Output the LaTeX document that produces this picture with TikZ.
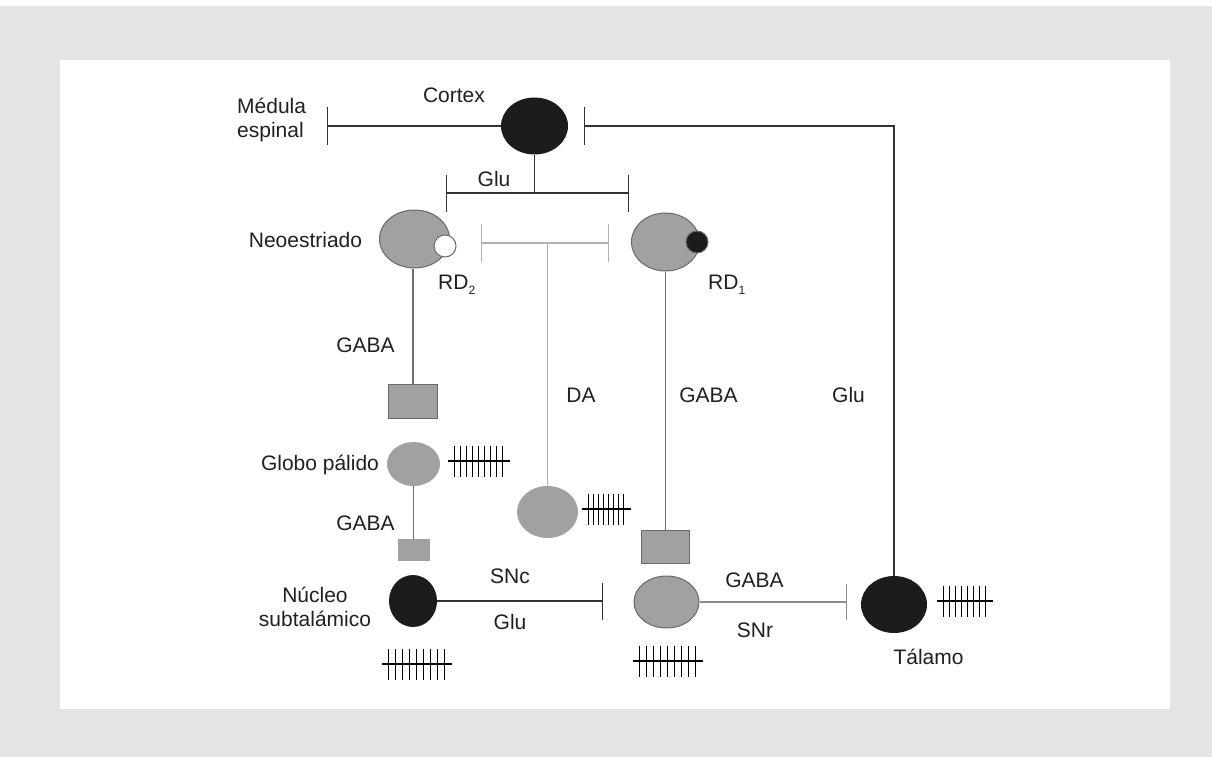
\documentclass[tikz,border=0pt]{standalone}
\usepackage{fontspec}
\setmainfont{Liberation Sans}
\usepackage{tikz}
\usetikzlibrary{arrows.meta}
\usetikzlibrary{shapes.geometric}
\usetikzlibrary{positioning}

\definecolor{bgGray}{RGB}{227,228,230}
\definecolor{cellGray}{RGB}{160,161,163}
\definecolor{cellEdge}{RGB}{105,105,107}
\definecolor{cellBlack}{RGB}{28,27,30}
\definecolor{darkLine}{RGB}{50,50,52}
\definecolor{midLine}{RGB}{110,110,112}
\definecolor{greyLine}{RGB}{140,140,142}
\definecolor{lightLine}{RGB}{178,178,180}
\definecolor{textInk}{RGB}{35,31,32}

\newcommand{\rdsub}[1]{\raisebox{-5pt}{\fontsize{12}{12}\selectfont #1}}

\begin{document}
\begin{tikzpicture}[
  x=1pt, y=-1pt,
  cellGrey/.style={ellipse, draw=cellEdge, fill=cellGray, line width=1pt, inner sep=0pt},
  cellSoft/.style={ellipse, fill=cellGray, inner sep=0pt},
  cellDark/.style={ellipse, fill=cellBlack, inner sep=0pt},
  synBox/.style={rectangle, draw=cellEdge, fill=cellGray, line width=1pt, inner sep=0pt},
  lbl/.style={font=\fontsize{21}{24}\selectfont, text=textInk, inner sep=0pt},
  path/.style={line width=1.3pt},
  tBar/.style={-{Bar[width=#1]}},
  tBar/.default=37pt,
]

\tikzset{
  pics/tally/.style 2 args={
    code={
      \foreach \k in {1,...,#1} {
        \draw[line width=1.3pt, black] ({(\k-1)*#2},-15.5) -- ++(0,31);
      }
      \draw[line width=1.3pt, black] (-7,0) -- ({(#1-1)*#2+7},0);
    }
  }
}

% --- frame ---
\fill[bgGray] (0,6) rectangle (1212,757);
\fill[white] (60,60) rectangle (1170,709);
\useasboundingbox (0,0) rectangle (1212,757);

% --- cells ---
\node[cellDark, minimum width=67pt, minimum height=57pt] (cortexCell) at (534.5,126) {};
\node[cellGrey, minimum width=70pt, minimum height=58pt] (neoLeft) at (414.5,239) {};
\node[circle, draw=cellEdge, fill=white, line width=1pt, minimum size=22pt, inner sep=0pt] (rdTwo) at (445,246) {};
\node[cellGrey, minimum width=68pt, minimum height=58pt] (neoRight) at (665.5,242) {};
\node[circle, draw=cellEdge, fill=cellBlack, line width=1pt, minimum size=22pt, inner sep=0pt] (rdOne) at (697,242) {};
\node[synBox, minimum width=49pt, minimum height=34pt] (boxLeft) at (413,401) {};
\node[cellSoft, minimum width=53pt, minimum height=44pt] (gpCell) at (413.5,464) {};
\node[rectangle, fill=cellGray, minimum width=32pt, minimum height=22pt, inner sep=0pt] (boxSmall) at (413.5,550) {};
\node[cellSoft, minimum width=61pt, minimum height=52pt] (daCell) at (547.5,512) {};
\node[synBox, minimum width=48pt, minimum height=33pt] (boxRight) at (665.5,546.5) {};
\node[cellDark, minimum width=48pt, minimum height=52pt] (stnCell) at (413,601) {};
\node[cellGrey, minimum width=65pt, minimum height=52pt] (snrCell) at (666.5,602) {};
\node[cellDark, minimum width=66pt, minimum height=57pt] (thalCell) at (894,604.5) {};

% --- bar ends ---
\coordinate (medulaBar) at (327,126);
\coordinate (cortexBar) at (584,126);
\coordinate (gluJoin) at (534.5,193);
\coordinate (gluLeft) at (446,193);
\coordinate (gluRight) at (629,193);
\coordinate (daJoin) at (547.5,243);
\coordinate (daLeft) at (481,243);
\coordinate (daRight) at (609,243);
\coordinate (stnBar) at (603,601);
\coordinate (snrBar) at (847,602);

% --- pathways ---
\draw[path, darkLine, tBar] (cortexCell) -- (medulaBar);
\draw[path, darkLine, tBar] (thalCell.north) |- (cortexBar);
\draw[path, darkLine] (cortexCell.south) -- (gluJoin);
\draw[path, darkLine, {Bar[width=37pt]}-{Bar[width=37pt]}] (gluLeft) -- (gluRight);
\draw[path, lightLine, {Bar[width=38pt]}-{Bar[width=38pt]}] (daLeft) -- (daRight);
\draw[path, lightLine] (daJoin) -- (daCell.north);
\draw[path, midLine] (boxLeft.north |- neoLeft.south) -- (boxLeft.north);
\draw[path, midLine] (gpCell.south) -- (boxSmall.north);
\draw[path, midLine] (neoRight.south) -- (boxRight.north);
\draw[path, darkLine, tBar] (stnCell) -- (stnBar);
\draw[path, greyLine, tBar=36pt] (snrCell) -- (snrBar);

% --- tallies ---
\pic (gpTally) at (454.5,461) {tally={9}{6}};
\pic (daTally) at (588.5,509) {tally={8}{5}};
\pic (stnTally) at (388.5,664) {tally={9}{7}};
\pic (snrTally) at (639.5,661) {tally={9}{7}};
\pic (thalTally) at (943.5,601) {tally={8}{6}};

% --- labels ---
\node[lbl, anchor=base] (cortexLbl) at (454,103) {Cortex};
\node[lbl, anchor=base west, align=left] (medulaLbl) at (237,137) {Médula\\espinal};
\node[lbl, anchor=base] (gluTopLbl) at (494,186) {Glu};
\node[lbl, anchor=base] (neoLbl) at (305.5,247) {Neoestriado};
\node[lbl, anchor=base west] (rdTwoLbl) at (438,289) {RD\rdsub{2}};
\node[lbl, anchor=base west] (rdOneLbl) at (708,289) {RD\rdsub{1}};
\node[lbl, anchor=base] (gabaLbl) at (365.5,352) {GABA};
\node[lbl, anchor=base] (daLbl) at (581,402) {DA};
\node[lbl, anchor=base] (gabaRightLbl) at (708.5,402) {GABA};
\node[lbl, anchor=base] (gluRightLbl) at (848.5,402) {Glu};
\node[lbl, anchor=base] (gpLbl) at (320,470) {Globo pálido};
\node[lbl, anchor=base] (gabaLowLbl) at (365.5,530) {GABA};
\node[lbl, anchor=base] (sncLbl) at (510,583) {SNc};
\node[lbl, anchor=base] (gluLowLbl) at (510,629) {Glu};
\node[lbl, anchor=base, align=center] (stnLbl) at (315,626) {Núcleo\\subtalámico};
\node[lbl, anchor=base] (gabaSnrLbl) at (754.5,587) {GABA};
\node[lbl, anchor=base] (snrLbl) at (755,637) {SNr};
\node[lbl, anchor=base] (thalLbl) at (928.5,664) {Tálamo};

\end{tikzpicture}
\end{document}
